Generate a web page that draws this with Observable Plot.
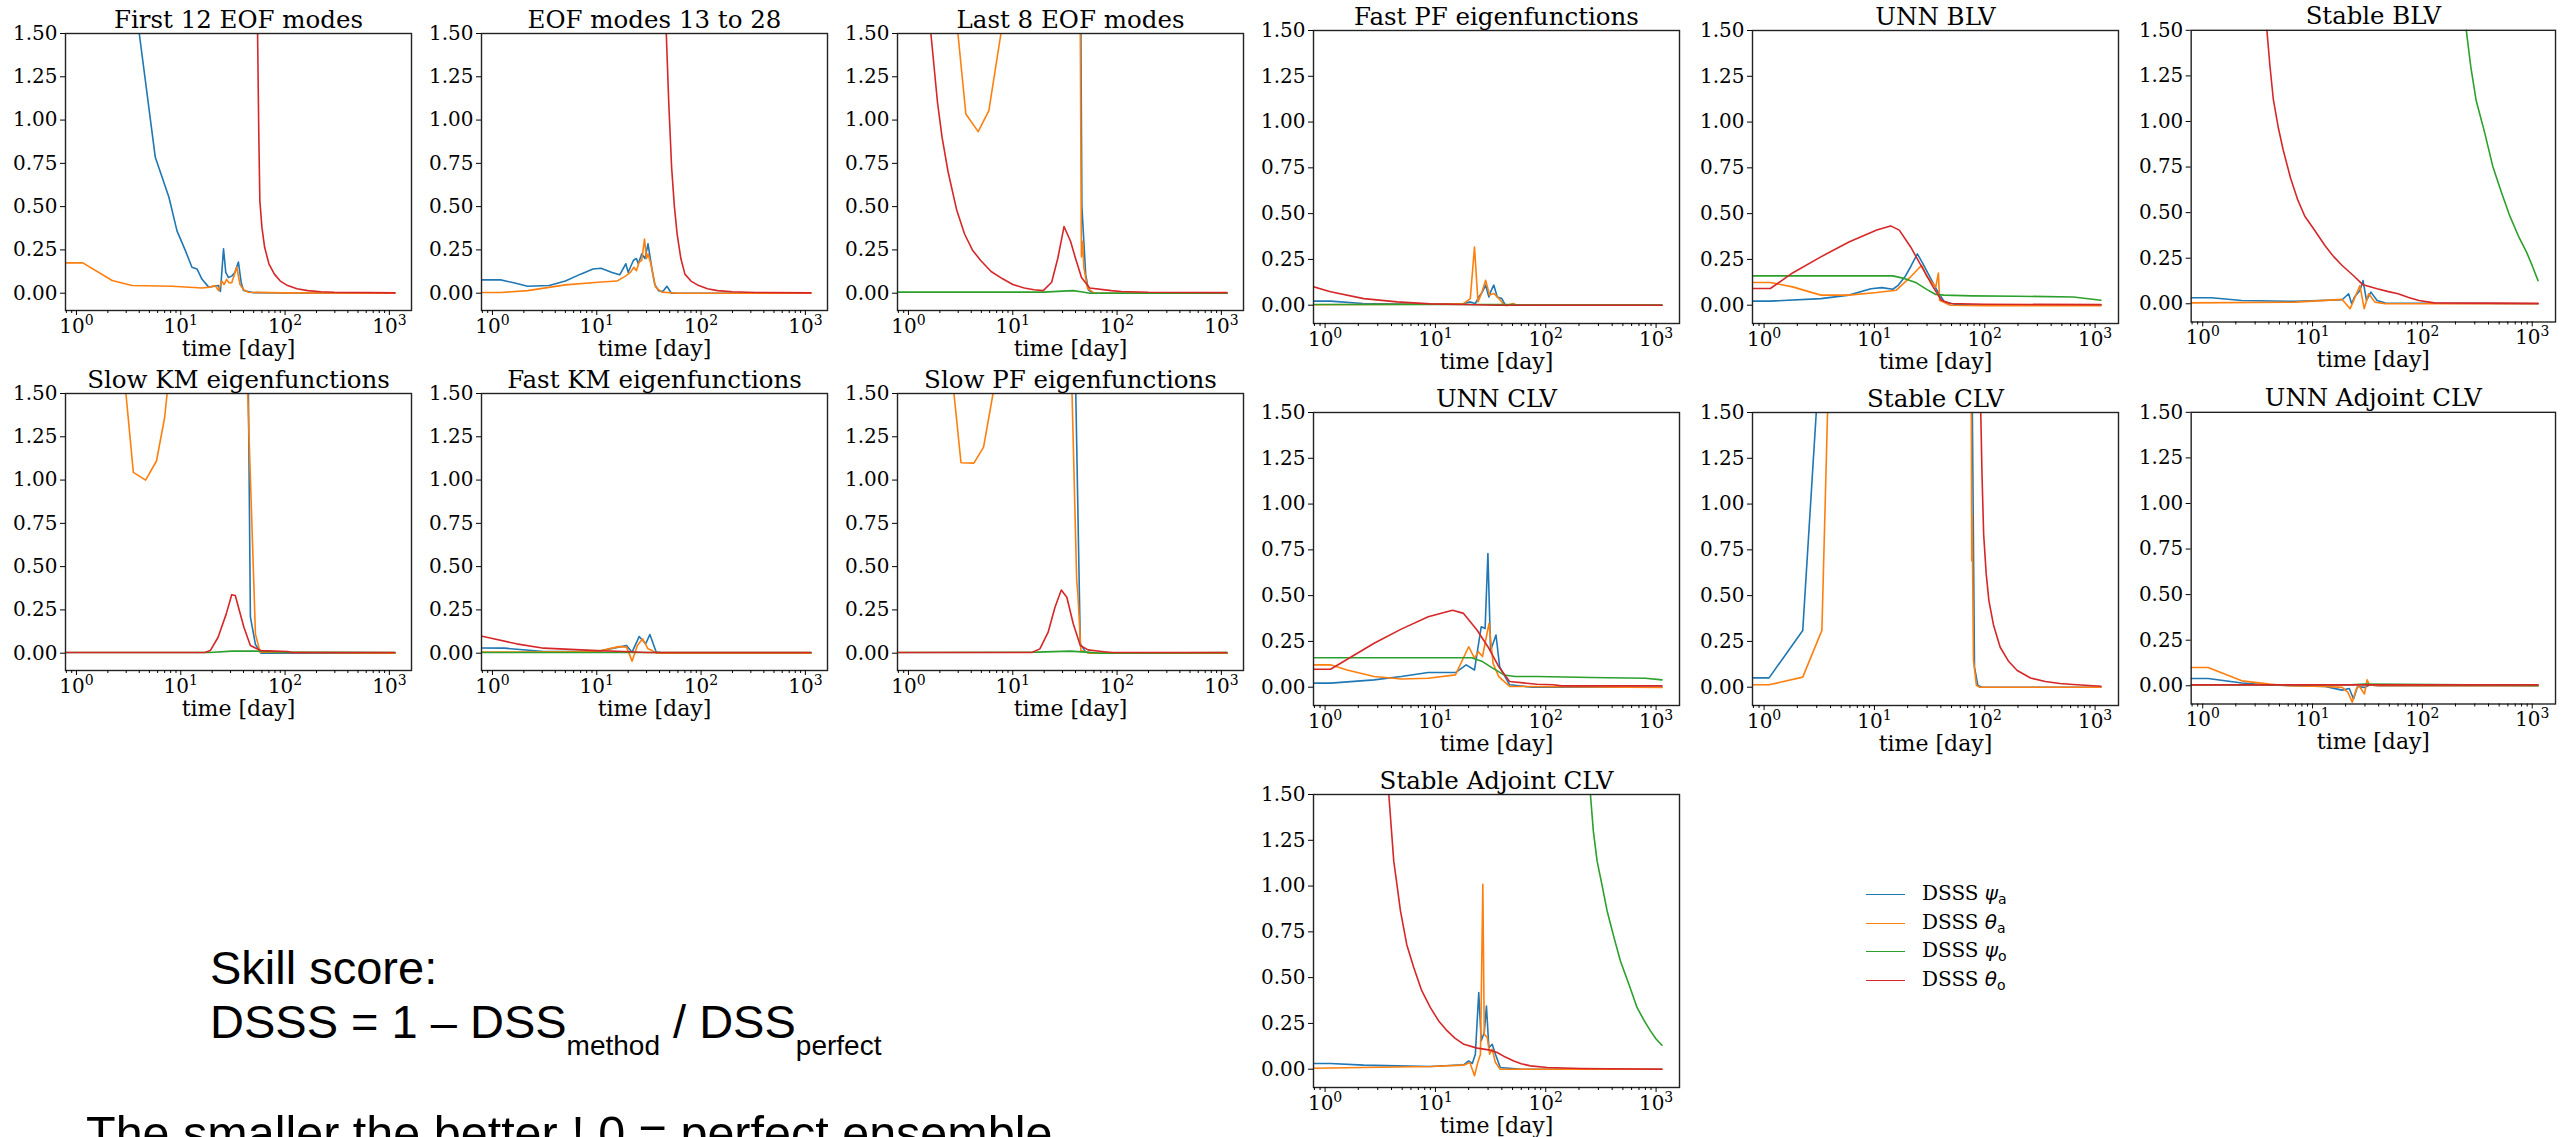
<!DOCTYPE html>
<html><head><meta charset="utf-8">
<script src="https://cdn.jsdelivr.net/npm/d3@7"></script>
<script src="https://cdn.jsdelivr.net/npm/@observablehq/plot@0.6"></script>
<style>
html,body{margin:0;padding:0;background:#fff;width:2561px;height:1137px;overflow:hidden;position:relative}
.panel{position:absolute}
.legend{position:absolute;left:1866px;top:880px;font-family:"DejaVu Serif";font-size:20px;color:#000}
.legrow{position:absolute;left:0;white-space:nowrap;height:20px}
.legline{position:absolute;left:0;top:14px;width:39px;border-top:1.6px solid}
.legtxt{position:absolute;left:56px;top:0px;line-height:26px}
.legtxt i{font-family:"DejaVu Sans";font-style:oblique}
.legtxt sub{font-family:"DejaVu Sans";font-size:14px;vertical-align:-4px;line-height:0}
.note{position:absolute;font-family:"Liberation Sans";font-size:47px;color:#000;white-space:nowrap;line-height:1}
.note sub{font-size:28px;vertical-align:-17px;line-height:0}
</style></head>
<body>
<script>
// ---------- data: [time in days, DSSS] ----------
const titles = ["First 12 EOF modes","EOF modes 13 to 28","Last 8 EOF modes",
  "Slow KM eigenfunctions","Fast KM eigenfunctions","Slow PF eigenfunctions",
  "Fast PF eigenfunctions","UNN BLV","Stable BLV",
  "UNN CLV","Stable CLV","UNN Adjoint CLV","Stable Adjoint CLV"];
const seriesNames = ["DSSS ψa","DSSS θa","DSSS ψo","DSSS θo"];
const seriesColors = ["#1f77b4","#ff7f0e","#2ca02c","#d62728"];
const yTicks = [0,0.25,0.5,0.75,1.0,1.25,1.5];
const xMajor = [1,10,100,1000];
const xMajorLabels = ["10^0","10^1","10^2","10^3"];
const xMinor = [0.8,0.9,2,3,4,5,6,7,8,9,20,30,40,50,60,70,80,90,200,300,400,500,600,700,800,900];
const xDomain = [0.785,1630];
const yDomain = [-0.1,1.5];

// First 12 EOF modes
const eof1_psiA = [[0.7,3.0],[3.0,2.1],[4.0,1.5],[5.7,0.785],[7.7,0.554],[9.2,0.36],[11,0.25],[12.8,0.15],[14.3,0.14],[16,0.08],[18.5,0.035],[21,0.04],[23,0.044],[24,0.01],[25.7,0.256],[27,0.12],[28.7,0.09],[31,0.1],[33,0.12],[35.7,0.18],[38,0.06],[40,0.015],[50,0.003],[100,0.001],[1130,0.0]];
const eof1_thA = [[0.7,0.175],[1.15,0.175],[2.2,0.073],[3.4,0.044],[8.3,0.04],[16,0.03],[19,0.035],[21.4,0.044],[23,0.015],[24.8,0.07],[26,0.05],[27.5,0.08],[29,0.06],[30.8,0.06],[32,0.09],[34.4,0.15],[37,0.05],[40,0.02],[44.5,0.005],[100,0.002],[1130,0.0]];
const eof1_psiO = [];
const eof1_thO = [[0.7,3.5],[50,2.2],[54.5,1.5],[56,0.92],[57.3,0.535],[60,0.38],[63.7,0.265],[70,0.17],[79,0.11],[90,0.07],[106,0.044],[130,0.026],[165,0.015],[220,0.008],[295,0.005],[1130,0.002]];
// EOF modes 13 to 28
const eof2_psiA = [[0.7,0.077],[1.2,0.077],[1.6,0.06],[2.17,0.04],[3.5,0.044],[5,0.07],[7,0.11],[9.2,0.14],[11,0.144],[14,0.12],[16.6,0.106],[19,0.17],[20,0.12],[21,0.15],[22.5,0.19],[24,0.2],[25,0.17],[27,0.227],[29,0.2],[31,0.285],[34,0.13],[36,0.05],[39,0.015],[43,0.01],[47,0.04],[52,0.0],[1130,0.0]];
const eof2_thA = [[0.7,0.004],[1.2,0.004],[2.17,0.015],[5,0.048],[10.3,0.063],[15.6,0.07],[19,0.1],[21,0.12],[22.7,0.15],[24,0.13],[25.5,0.18],[27,0.19],[28.7,0.313],[30,0.2],[31,0.227],[33,0.17],[36.6,0.035],[42,0.006],[60,0.0],[1130,0.0]];
const eof2_psiO = [];
const eof2_thO = [[0.7,3.5],[44,1.9],[46.4,1.5],[49,1.1],[52.2,0.727],[55.5,0.5],[59,0.34],[64,0.2],[70,0.11],[80,0.07],[95,0.044],[115,0.026],[144,0.015],[200,0.008],[330,0.004],[1130,0.002]];
// Last 8 EOF modes
const eof3_psiA = [[0.7,3],[44.5,2],[46,0.5],[48,0.3],[50,0.11],[53,0.02],[58,0.0],[1130,0.0]];
const eof3_thA = [[0.7,3.5],[2.5,2.0],[2.98,1.5],[3.55,1.035],[4.66,0.933],[5.9,1.054],[7.7,1.5],[9,2.0],[44,2.0],[45.5,0.21],[46.8,0.30],[48,0.15],[52,0.03],[56,0.015],[60,0.0],[1130,0.0]];
const eof3_psiO = [[0.7,0.006],[20,0.006],[30,0.012],[38,0.015],[45,0.008],[55,0.0],[1130,0.0]];
const eof3_thO = [[0.7,3.5],[1.4,2.0],[1.64,1.5],[1.9,1.1],[2.1,0.9],[2.4,0.70],[2.9,0.48],[3.45,0.342],[4.1,0.25],[4.9,0.19],[6.2,0.125],[8,0.083],[10,0.05],[12.9,0.03],[16,0.02],[19.6,0.015],[23.6,0.063],[27,0.2],[31,0.385],[35.8,0.30],[40,0.2],[45.6,0.09],[54.6,0.03],[88,0.015],[110,0.01],[200,0.005],[1130,0.003]];
// Slow KM eigenfunctions
const skm_psiA = [[0.7,3],[43,2],[44.5,1.5],[46.5,0.21],[52,0.05],[58.7,0.0],[1130,0.0]];
const skm_thA = [[0.7,3.5],[2.5,2.0],[2.98,1.5],[3.51,1.044],[4.6,1.0],[5.85,1.11],[7.0,1.36],[7.4,1.5],[9,2.0],[42,2.0],[43.8,1.5],[52,0.11],[57.6,0.006],[1130,0.0]];
const skm_psiO = [[0.7,0.004],[19,0.004],[31,0.012],[52,0.012],[106,0.006],[1130,0.004]];
const skm_thO = [[0.7,0.004],[17,0.004],[19.2,0.015],[22.8,0.092],[27.3,0.227],[30.8,0.338],[33.3,0.333],[40.3,0.15],[46.5,0.044],[58.7,0.015],[106,0.01],[115,0.004],[1130,0.004]];
// Fast KM eigenfunctions
const fkm_psiA = [[0.7,0.03],[1.3,0.029],[3.1,0.01],[10.1,0.01],[16.2,0.035],[19.3,0.044],[21.8,0.006],[25.5,0.096],[29.4,0.054],[32.3,0.108],[37.2,0.006],[45,0.0],[1130,0.0]];
const fkm_thA = [[0.7,0.006],[10.1,0.01],[16.2,0.038],[19.3,0.035],[21.8,-0.046],[24.5,0.044],[27.5,0.083],[31,0.025],[34,0.015],[37.2,0.0],[1130,0.0]];
const fkm_psiO = [[0.7,0.004],[1130,0.004]];
const fkm_thO = [[0.7,0.105],[1.7,0.054],[3.1,0.029],[10.1,0.015],[18.2,0.01],[30,0.004],[1130,0.004]];
// Slow PF eigenfunctions
const spf_psiA = [[0.7,3],[38.5,2],[40.2,1.5],[44.4,0.054],[50,0.006],[60,0.0],[1130,0.0]];
const spf_thA = [[0.7,3.5],[2.3,2.0],[2.73,1.5],[3.19,1.1],[4.24,1.098],[5.25,1.19],[6.47,1.5],[8,2.0],[35,2.0],[37,1.5],[41,0.42],[42,0.35],[45,0.015],[55,0.0],[1130,0.0]];
const spf_psiO = [[0.7,0.004],[17,0.006],[35.5,0.012],[50,0.006],[70,0.0],[1130,0.003]];
const spf_thO = [[0.7,0.004],[15.2,0.004],[18.2,0.025],[21.8,0.12],[25.4,0.265],[29.2,0.365],[33,0.323],[38,0.17],[44.4,0.044],[52.7,0.019],[71,0.01],[90,0.004],[1130,0.004]];
// Fast PF eigenfunctions
const fpf_psiA = [[0.7,0.022],[1.12,0.022],[2.2,0.009],[9,0.005],[18,0.009],[20.7,0.018],[23,0.009],[24.7,0.045],[26.5,0.07],[28.5,0.11],[30.5,0.045],[32,0.08],[33.8,0.11],[36.3,0.045],[40,0.036],[43,0.0],[1130,0.0]];
const fpf_thA = [[0.7,0.002],[9,0.005],[18,0.009],[20.7,0.036],[22.6,0.318],[24.3,0.018],[26,0.06],[28.5,0.136],[31,0.055],[33.8,0.064],[37.6,0.036],[41.5,0.005],[44,-0.003],[50.5,0.009],[55,0.0],[1130,0.0]];
const fpf_psiO = [[0.7,0.004],[50,0.004],[60,0.001],[1130,0.001]];
const fpf_thO = [[0.7,0.11],[1.12,0.073],[2.24,0.036],[4.5,0.018],[9,0.007],[18,0.004],[36,0.0],[1130,0.0]];
// UNN BLV
const ublv_psiA = [[0.7,0.022],[1.14,0.022],[3.27,0.036],[5.87,0.055],[9.3,0.09],[11.7,0.096],[14.7,0.087],[16.5,0.11],[18.9,0.155],[21.3,0.21],[24.5,0.28],[27.5,0.227],[31.8,0.155],[37,0.08],[43,0.018],[55,0.004],[100,0.0],[1130,0.0]];
const ublv_thA = [[0.7,0.124],[1.14,0.124],[1.81,0.1],[3.27,0.055],[5.87,0.055],[10.5,0.069],[15.8,0.082],[21.3,0.155],[26.8,0.218],[30,0.155],[36,0.1],[38,0.176],[39,0.027],[48.5,0.0],[100,-0.003],[1130,-0.003]];
const ublv_psiO = [[0.7,0.16],[14.7,0.16],[18.9,0.145],[24,0.122],[30,0.085],[36,0.058],[43,0.055],[77,0.051],[197,0.049],[635,0.045],[1130,0.027]];
const ublv_thO = [[0.7,0.091],[1.14,0.091],[1.81,0.176],[3.27,0.264],[5.87,0.345],[10.5,0.41],[14,0.433],[16.8,0.41],[21.3,0.318],[26.8,0.21],[34,0.1],[40.5,0.027],[48.5,0.009],[98,0.005],[1130,0.003]];
// Stable BLV
const sblv_psiA = [[0.7,0.033],[1.2,0.033],[2.26,0.018],[7,0.013],[18.6,0.022],[21.3,0.055],[22.7,0.0],[24,0.036],[27,0.073],[28.8,0.127],[31,0.018],[34,0.064],[38.7,0.018],[46,0.004],[1130,0.0]];
const sblv_thA = [[0.7,0.005],[7,0.009],[18.6,0.024],[22,-0.027],[24,0.027],[27,0.1],[29.5,-0.027],[32.4,0.055],[37,0.009],[46,0.0],[1130,0.0]];
const sblv_psiO = [[0.7,3.5],[200,2.0],[251,1.5],[276,1.3],[308,1.118],[370,0.936],[437,0.755],[526,0.609],[625,0.482],[747,0.373],[890,0.282],[1000,0.209],[1130,0.127]];
const sblv_thO = [[0.7,3.5],[3.2,2.0],[3.84,1.5],[4.1,1.3],[4.4,1.118],[4.9,0.96],[5.4,0.845],[6.3,0.69],[7.3,0.573],[8.5,0.48],[10,0.42],[13,0.318],[15.5,0.26],[18.6,0.21],[23.5,0.155],[28.8,0.104],[38.7,0.082],[48,0.068],[60,0.055],[75,0.035],[93,0.018],[128,0.005],[1130,0.002]];
// UNN CLV
const uclv_psiA = [[0.7,0.022],[1.12,0.022],[2.78,0.04],[4.9,0.058],[8.6,0.08],[15.2,0.08],[19,0.122],[22.6,0.094],[26,0.33],[28.2,0.32],[29.9,0.73],[31.6,0.2],[35.4,0.285],[38.2,0.112],[47,0.013],[75,0.0],[1130,0.0]];
const uclv_thA = [[0.7,0.122],[1.12,0.122],[1.58,0.094],[2.78,0.058],[4.9,0.045],[8.6,0.049],[15.2,0.067],[20,0.221],[22.6,0.158],[24.5,0.194],[26.7,0.167],[28.2,0.24],[30.6,0.348],[33.3,0.13],[37.5,0.058],[47,0.004],[1130,-0.002]];
const uclv_psiO = [[0.7,0.161],[21.3,0.161],[26.7,0.14],[33.3,0.103],[41.9,0.067],[52.6,0.058],[83,0.058],[256,0.053],[800,0.049],[1130,0.04]];
const uclv_thO = [[0.7,0.098],[1.12,0.098],[2.78,0.24],[4.9,0.317],[8.6,0.385],[14.3,0.42],[18,0.403],[23.8,0.312],[29.9,0.221],[37.5,0.112],[47,0.031],[83,0.016],[116,0.013],[140,0.007],[1130,0.007]];
// Stable CLV
const sclv_psiA = [[0.7,0.051],[1.11,0.051],[2.24,0.31],[2.97,1.5],[3.5,2.5],[70,2.5],[77.2,1.5],[80.7,0.109],[86.6,0.009],[95,0.0],[1130,0.0]];
const sclv_thA = [[0.7,0.013],[1.11,0.013],[2.24,0.055],[3.34,0.31],[3.76,1.5],[4.5,2.5],[70,2.5],[75.5,1.6],[76.2,0.69],[76.8,0.94],[79,0.15],[84,0.01],[90,0.0],[1130,0.0]];
const sclv_psiO = [];
const sclv_thO = [[0.7,3.5],[85,2.0],[92,1.5],[94.5,1.15],[97.7,0.836],[103,0.62],[109,0.473],[120,0.34],[138,0.218],[165,0.14],[197,0.091],[260,0.05],[354,0.031],[480,0.02],[634,0.015],[1130,0.005]];
// UNN Adjoint CLV
const uaclv_psiA = [[0.7,0.04],[1.12,0.04],[2.27,0.015],[4.06,0.004],[13,-0.004],[18.6,-0.024],[21.6,-0.015],[23.6,-0.073],[25.7,-0.004],[29.7,-0.009],[33,0.004],[40,0.0],[1130,0.0]];
const uaclv_thA = [[0.7,0.1],[1.12,0.1],[2.27,0.027],[4.06,0.009],[6,0.0],[13,-0.004],[18.6,-0.009],[21,-0.036],[23,-0.09],[25,-0.018],[26.5,0.0],[29.7,-0.045],[31.4,0.033],[33,0.004],[40,0.0],[1130,0.0]];
const uaclv_psiO = [[0.7,0.004],[20,0.004],[30,0.009],[1130,0.002]];
const uaclv_thO = [[0.7,0.005],[1130,0.005]];
// Stable Adjoint CLV
const saclv_psiA = [[0.7,0.031],[1.12,0.031],[2.24,0.022],[4.5,0.018],[9,0.015],[18,0.024],[20,0.045],[21.6,0.031],[23,0.082],[24.7,0.418],[26,0.155],[27.7,0.2],[29,0.345],[30.5,0.118],[32.7,0.136],[35,0.082],[38.7,0.009],[60,0.0],[1130,0.0]];
const saclv_thA = [[0.7,0.005],[9,0.015],[18,0.022],[20.5,0.036],[22.6,-0.036],[24.2,0.036],[25.6,0.082],[26.9,1.01],[27.7,0.19],[29.5,0.173],[31,0.082],[32.7,0.109],[35,0.036],[38.7,0.0],[1130,0.0]];
const saclv_psiO = [[0.7,3.5],[200,2.0],[254,1.5],[270,1.3],[292,1.136],[325,1.0],[360,0.864],[415,0.72],[475,0.591],[570,0.46],[673,0.336],[780,0.265],[889,0.209],[1000,0.165],[1130,0.131]];
const saclv_thO = [[0.7,3.5],[3.3,2.0],[3.78,1.5],[4.0,1.3],[4.19,1.136],[4.5,1.0],[4.82,0.864],[5.5,0.68],[6.36,0.555],[7.5,0.43],[9.0,0.336],[10.8,0.26],[12.8,0.209],[15,0.17],[18.1,0.136],[23.9,0.115],[31.5,0.104],[36.3,0.091],[43,0.066],[51.3,0.045],[60,0.03],[72.6,0.018],[103,0.009],[206,0.004],[1130,0.0]];

const panelSeries = [
  [eof1_psiA,eof1_thA,eof1_psiO,eof1_thO],
  [eof2_psiA,eof2_thA,eof2_psiO,eof2_thO],
  [eof3_psiA,eof3_thA,eof3_psiO,eof3_thO],
  [skm_psiA,skm_thA,skm_psiO,skm_thO],
  [fkm_psiA,fkm_thA,fkm_psiO,fkm_thO],
  [spf_psiA,spf_thA,spf_psiO,spf_thO],
  [fpf_psiA,fpf_thA,fpf_psiO,fpf_thO],
  [ublv_psiA,ublv_thA,ublv_psiO,ublv_thO],
  [sblv_psiA,sblv_thA,sblv_psiO,sblv_thO],
  [uclv_psiA,uclv_thA,uclv_psiO,uclv_thO],
  [sclv_psiA,sclv_thA,sclv_psiO,sclv_thO],
  [uaclv_psiA,uaclv_thA,uaclv_psiO,uaclv_thO],
  [saclv_psiA,saclv_thA,saclv_psiO,saclv_thO]
];

// ---------- layout ----------
const L = {w:346, h:277}, R = {w:366, h:293};
const frames = [
  [65,33,L],[481,33,L],[897,33,L],
  [65,393,L],[481,393,L],[897,393,L],
  [1313,30,R],[1752,30,R],[2191,30,R],
  [1313,412,R],[1752,412,R],[2191,412,R],
  [1313,794,R]
];
const mL=72, mR=6, mT=38, mB=56;

frames.forEach(([fx,fy,S],i) => {
  const marks = [];
  panelSeries[i].forEach((s,k) => {
    if (s.length) marks.push(Plot.line(s,{x:d=>d[0],y:d=>d[1],stroke:seriesColors[k],strokeWidth:1.6,clip:true}));
  });
  marks.push(
    Plot.frame({stroke:"#222",strokeWidth:1.4}),
    Plot.axisY({ticks:yTicks,tickFormat:d3.format(".2f"),tickSize:5,tickPadding:3,label:null,fontSize:20}),
    Plot.axisX({ticks:xMajor,tickFormat:d=>xMajorLabels[xMajor.indexOf(d)],tickSize:5,tickPadding:3,label:null,fontSize:20}),
    Plot.axisX({ticks:xMinor,tickFormat:()=>"",tickSize:3,label:null}),
    Plot.text([titles[i]],{frameAnchor:"top",dy:-6,lineAnchor:"bottom",fontSize:24.5,fill:"#000"}),
    Plot.text(["time [day]"],{frameAnchor:"bottom",dy:45,lineAnchor:"bottom",fontSize:22,fill:"#000"})
  );
  const svg = Plot.plot({
    width:mL+S.w+mR, height:mT+S.h+mB,
    marginLeft:mL, marginRight:mR, marginTop:mT, marginBottom:mB,
    x:{type:"log",domain:xDomain}, y:{domain:yDomain},
    style:{fontFamily:"DejaVu Serif",fontSize:"20px",color:"#000",background:"transparent",overflow:"visible"},
    marks
  });
  // superscript exponents on log tick labels
  svg.querySelectorAll('g[aria-label="x-axis tick label"] text').forEach(t => {
    const s = t.textContent;
    if (s.includes("^")) {
      const [b,e] = s.split("^");
      t.textContent = "";
      const t1 = document.createElementNS("http://www.w3.org/2000/svg","tspan"); t1.textContent=b;
      const t2 = document.createElementNS("http://www.w3.org/2000/svg","tspan"); t2.textContent=e;
      t2.setAttribute("font-size","14"); t2.setAttribute("dy","-8");
      t.appendChild(t1); t.appendChild(t2);
    }
  });
  const div = document.createElement("div");
  div.className="panel";
  div.style.left=(fx-mL)+"px"; div.style.top=(fy-mT)+"px";
  div.appendChild(svg);
  document.body.appendChild(div);
});

// legend
const leg = document.createElement("div"); leg.className="legend";
const subs = ["a","a","o","o"], greek=["ψ","θ","ψ","θ"];
seriesNames.forEach((n,k)=>{
  const r = document.createElement("div"); r.className="legrow"; r.style.top=(k*28.7)+"px";
  r.innerHTML = `<div class="legline" style="border-color:${seriesColors[k]}"></div><div class="legtxt">DSSS <i>${greek[k]}</i><sub>${subs[k]}</sub></div>`;
  leg.appendChild(r);
});
document.body.appendChild(leg);

// notes
const n1 = document.createElement("div"); n1.className="note"; n1.style.left="210px"; n1.style.top="944px";
n1.innerHTML = "Skill score:";
const n2 = document.createElement("div"); n2.className="note"; n2.style.left="210px"; n2.style.top="998px";
n2.innerHTML = "DSSS = 1 – DSS<sub>method</sub> / DSS<sub>perfect</sub>";
const n3 = document.createElement("div"); n3.className="note"; n3.style.left="86px"; n3.style.top="1109px"; n3.style.fontSize="48.5px";
n3.innerHTML = "The smaller the better ! 0 = perfect ensemble";
document.body.append(n1,n2,n3);
</script>
</body></html>
